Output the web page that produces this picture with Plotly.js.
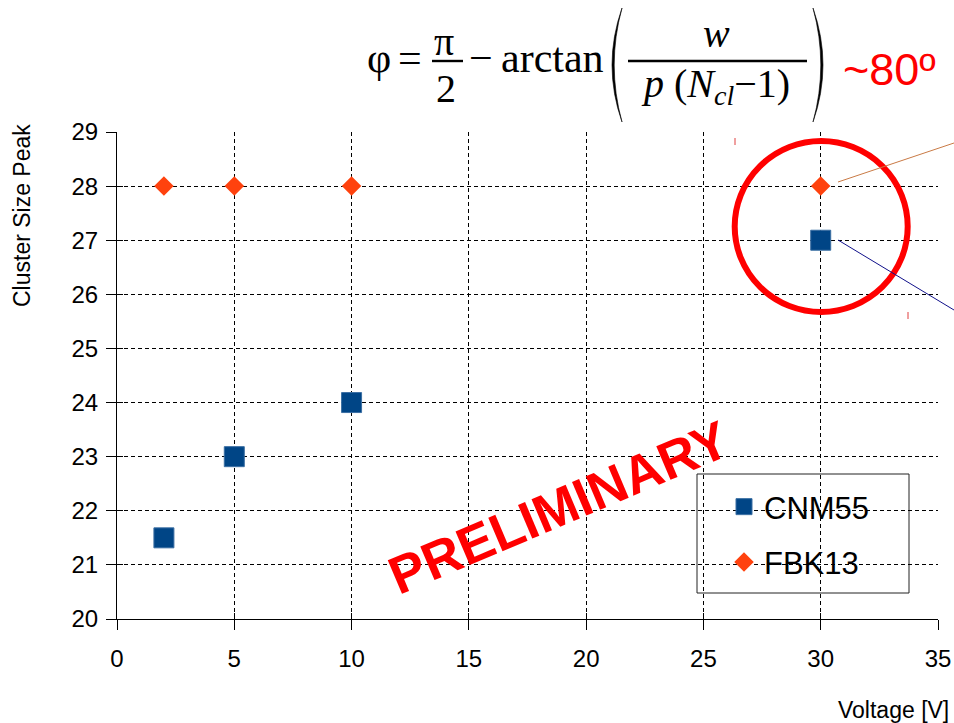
<!DOCTYPE html>
<html>
<head>
<meta charset="utf-8">
<script src="https://cdn.plot.ly/plotly-3.0.1.min.js"></script>
<style>html,body{margin:0;padding:0;background:#fff;}#chart{width:954px;height:723px;}</style>
</head>
<body>
<div id="chart"></div>
<script>
// ---- data ----
const voltage = [2, 5, 10, 30];
const cnm55 = [21.5, 23, 24, 27];
const fbk13 = [28, 28, 28, 28];
const seriesNames = ['CNM55', 'FBK13'];
const xTicks = [0, 5, 10, 15, 20, 25, 30, 35];
const yTicks = [20, 21, 22, 23, 24, 25, 26, 27, 28, 29];

// ---- geometry helpers (pixel -> paper) ----
const W = 954, H = 723;
const M = {l: 117, r: 16, t: 132, b: 104};
const PW = W - M.l - M.r, PH = H - M.t - M.b;
const px = v => (v - M.l) / PW;
const py = v => (H - M.b - v) / PH;

const SERIF = 'Liberation Serif, Times New Roman, serif';
const SANS = 'Liberation Sans, Arial, sans-serif';

function ann(text, x, y, size, extra) {
  return Object.assign({
    text: text, xref: 'paper', yref: 'paper', x: px(x), y: py(y),
    xanchor: 'center', yanchor: 'middle', showarrow: false,
    font: {family: SERIF, size: size, color: '#000'}
  }, extra || {});
}
function line(x0, y0, x1, y1, color, width) {
  return {type: 'line', xref: 'paper', yref: 'paper', x0: px(x0), y0: py(y0), x1: px(x1), y1: py(y1),
          line: {color: color, width: width}};
}
function paren(xEnd, yTop, yBot, xMid, thick) {
  const ym = (yTop + yBot) / 2;
  const cOuter = 2 * xMid - xEnd;
  const dir = Math.sign(xMid - xEnd);
  const cInner = 2 * (xMid - dir * thick) - xEnd;
  const p = (a, b) => px(a) + ',' + py(b);
  const path = 'M' + p(xEnd, yTop) + ' Q' + p(cOuter, ym) + ' ' + p(xEnd, yBot) +
               ' Q' + p(cInner, ym) + ' ' + p(xEnd, yTop) + ' Z';
  return {type: 'path', xref: 'paper', yref: 'paper', path: path,
          fillcolor: '#000', line: {color: '#000', width: 0.6}};
}

const traces = [
  {x: voltage, y: cnm55, name: seriesNames[0], type: 'scatter', mode: 'markers',
   legendgroup: 'a',
   marker: {symbol: 'square', size: 20, color: '#004586', line: {color: '#3b6fa3', width: 1}},
   hoverinfo: 'x+y'},
  {x: voltage, y: fbk13, name: seriesNames[1], type: 'scatter', mode: 'markers',
   legendgroup: 'b',
   marker: {symbol: 'diamond', size: 15, color: '#ff420e', line: {width: 0}},
   hoverinfo: 'x+y'},
  {x: [], y: [], xaxis: 'x2', yaxis: 'y2', type: 'scatter', mode: 'markers', showlegend: false, hoverinfo: 'skip'}
];

const axisCommon = {
  showline: true, linecolor: '#000', linewidth: 1,
  ticks: 'outside', ticklen: 10, tickcolor: '#000', tickwidth: 1,
  showgrid: true, gridcolor: '#000', gridwidth: 1, griddash: '4px,3px',
  zeroline: false, tickfont: {family: SANS, size: 24, color: '#000'}
};

const layout = {
  width: W, height: H,
  margin: M,
  paper_bgcolor: '#fff', plot_bgcolor: '#fff',
  font: {family: SANS, color: '#000'},
  showlegend: true,
  legend: {x: px(724), y: py(480), xanchor: 'left', yanchor: 'top',
           bgcolor: 'rgba(0,0,0,0)', borderwidth: 0, tracegroupgap: 12,
           font: {family: SANS, size: 31, color: '#000'}},
  xaxis: Object.assign({}, axisCommon, {range: [0, 35], tickmode: 'array', tickvals: xTicks,
           ticktext: xTicks.map(String), ticklabelstandoff: 8}),
  yaxis: Object.assign({}, axisCommon, {range: [20, 29], tickmode: 'array', tickvals: yTicks,
           ticktext: yTicks.map(String), ticklabelstandoff: 3}),
  xaxis2: {overlaying: 'x', range: [0, 35], tickmode: 'array', tickvals: xTicks, ticks: 'inside',
           ticklen: 6, tickcolor: '#000', showticklabels: false, showgrid: false, zeroline: false,
           showline: false, side: 'bottom'},
  yaxis2: {overlaying: 'y', range: [20, 29], tickmode: 'array', tickvals: yTicks, ticks: 'inside',
           ticklen: 6, tickcolor: '#000', showticklabels: false, showgrid: false, zeroline: false,
           showline: false, side: 'left'},
  shapes: [
    // legend frame
    {type: 'rect', xref: 'paper', yref: 'paper', x0: px(697), x1: px(909), y0: py(593), y1: py(474),
     line: {color: '#222', width: 1}, fillcolor: 'rgba(255,255,255,1)', layer: 'below'},
    // highlight circle
    {type: 'circle', xref: 'paper', yref: 'paper', x0: px(734.7), x1: px(907.7), y0: py(312), y1: py(141),
     line: {color: '#ff0000', width: 6}},
    // callout lines
    line(838, 182, 954, 143, '#c97a45', 1),
    line(838, 240, 954, 310, '#10108a', 1),
    // small red marks
    line(735, 138, 735, 145, '#e04040', 1),
    line(908, 312, 908, 319, '#e04040', 1),
    // fraction bars
    line(432, 61, 463, 61, '#000', 2.4),
    line(628, 61, 807, 61, '#000', 2.4),
    // big parentheses
    paren(622, 8, 122, 612, 2.2),
    paren(813, 8, 122, 823, 2.2)
  ],
  annotations: [
    ann('φ', 378.5, 57.7, 42),
    ann('=', 409.5, 57.7, 42),
    ann('π', 444, 41, 40),
    ann('2', 446, 88, 40),
    ann('−', 480.5, 57.7, 42),
    ann('arctan', 552.5, 57.7, 42),
    ann('<i>w</i>', 716, 33, 40),
    ann('<i>p</i> (<i>N</i><sub><i>cl</i></sub>−1)', 715, 86, 40),
    ann('~80º', 889, 69.4, 45, {font: {family: SANS, size: 45, color: '#ff0000'}}),
    ann('<b>PRELIMINARY</b>', 558, 507, 53, {textangle: -23, font: {family: SANS, size: 53, color: '#ff0000'}}),
    ann('Cluster Size Peak', 22, 216, 23, {textangle: -90, font: {family: SANS, size: 23, color: '#000'}}),
    ann('Voltage [V]', 893, 710, 23, {font: {family: SANS, size: 23, color: '#000'}})
  ]
};

Plotly.newPlot('chart', traces, layout, {displayModeBar: false});
</script>
</body>
</html>
